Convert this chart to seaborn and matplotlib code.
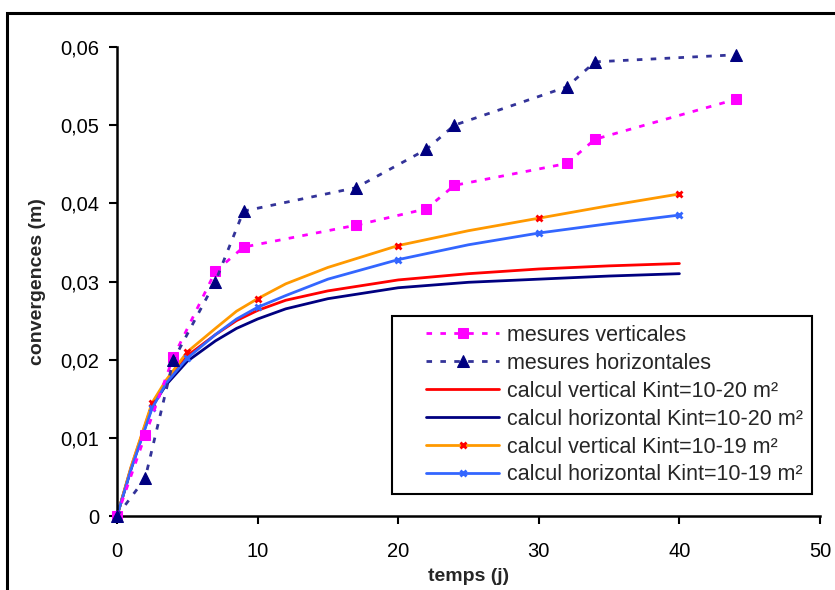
import matplotlib
matplotlib.use("Agg")
import matplotlib.pyplot as plt
from matplotlib.patches import Rectangle
import seaborn as sns
import pandas as pd

# ---- data ----
t_mes = [0, 2, 4, 7, 9, 17, 22, 24, 32, 34, 44]
mes_vert = [0.0, 0.0103, 0.0203, 0.0313, 0.0344, 0.0372, 0.0393, 0.0423, 0.0451, 0.0482, 0.0533]
mes_horiz = [0.0, 0.0048, 0.0199, 0.0300, 0.0390, 0.0420, 0.0469, 0.0500, 0.0549, 0.0581, 0.0590]

t_calc = [0, 1, 2.5, 3.5, 5, 7, 8.5, 10, 12, 15, 20, 25, 30, 35, 40]
calc_vert_20 = [0.0, 0.0062, 0.0143, 0.0172, 0.0205, 0.0232, 0.0250, 0.0263, 0.0276, 0.0288, 0.0302, 0.0310, 0.0316, 0.0320, 0.0323]
calc_horiz_20 = [0.0, 0.0060, 0.0140, 0.0168, 0.0198, 0.0224, 0.0240, 0.0252, 0.0265, 0.0278, 0.0292, 0.0299, 0.0303, 0.0307, 0.0310]
calc_vert_19 = [0.0, 0.0063, 0.0145, 0.0174, 0.0210, 0.0240, 0.0262, 0.0278, 0.0297, 0.0318, 0.0346, 0.0365, 0.0381, 0.0397, 0.0412]
calc_horiz_19 = [0.0, 0.0060, 0.0138, 0.0170, 0.0202, 0.0232, 0.0252, 0.0267, 0.0282, 0.0303, 0.0328, 0.0347, 0.0362, 0.0374, 0.0385]
marker_days = [0, 2.5, 5, 10, 20, 30, 40]

labels = ["mesures verticales", "mesures horizontales",
          "calcul vertical Kint=10-20 m²", "calcul horizontal Kint=10-20 m²",
          "calcul vertical Kint=10-19 m²", "calcul horizontal Kint=10-19 m²"]
x_ticks = [0, 10, 20, 30, 40, 50]
y_ticks = [0, 0.01, 0.02, 0.03, 0.04, 0.05, 0.06]
y_ticklabels = ["0", "0,01", "0,02", "0,03", "0,04", "0,05", "0,06"]

sns.set_style("ticks")
plt.rcParams["font.family"] = ["Liberation Sans", "DejaVu Sans"]

fig = plt.figure(figsize=(8.35, 5.9), dpi=100)
ax = fig.add_axes([117/835, 1-516/590, (820-117)/835, (516-47)/590])

mk_idx = [t_calc.index(d) for d in marker_days]

df_mv = pd.DataFrame({"t": t_mes, "v": mes_vert})
df_mh = pd.DataFrame({"t": t_mes, "v": mes_horiz})

sns.lineplot(data=df_mv, x="t", y="v", ax=ax, estimator=None, sort=False,
             color="#FF00FF", lw=2, linestyle=(0, (2.0, 3.0)),
             marker="s", markersize=7, markerfacecolor="#FF00FF", markeredgecolor="#FF00FF",
             label=labels[0], clip_on=False, zorder=5)
sns.lineplot(data=df_mh, x="t", y="v", ax=ax, estimator=None, sort=False,
             color="#333399", lw=2, linestyle=(0, (2.0, 3.0)),
             marker="^", markersize=8, markerfacecolor="#000080", markeredgecolor="#000080",
             label=labels[1], clip_on=False, zorder=5)
sns.lineplot(x=t_calc, y=calc_vert_20, ax=ax, estimator=None, sort=False,
             color="#FF0000", lw=2, label=labels[2])
sns.lineplot(x=t_calc, y=calc_horiz_20, ax=ax, estimator=None, sort=False,
             color="#000080", lw=2, label=labels[3])
sns.lineplot(x=t_calc, y=calc_vert_19, ax=ax, estimator=None, sort=False,
             color="#FF9900", lw=2, marker="x", markersize=5, markeredgewidth=2,
             markeredgecolor="#FF0000", markevery=mk_idx, label=labels[4], clip_on=False)
sns.lineplot(x=t_calc, y=calc_horiz_19, ax=ax, estimator=None, sort=False,
             color="#3366FF", lw=2, marker="x", markersize=5, markeredgewidth=2,
             markeredgecolor="#3366FF", markevery=mk_idx, label=labels[5], clip_on=False)

ax.set_xlim(0, 50)
ax.set_ylim(0, 0.06)
ax.set_xticks(x_ticks)
ax.set_xticklabels([str(v) for v in x_ticks])
ax.set_yticks(y_ticks)
ax.set_yticklabels(y_ticklabels)
ax.tick_params(axis="both", direction="out", length=6, width=1.5, labelsize=14.5,
               colors="black")
ax.tick_params(axis="y", pad=7)
ax.tick_params(axis="x", pad=13)
for s in ["top", "right"]:
    ax.spines[s].set_visible(False)
for s in ["left", "bottom"]:
    ax.spines[s].set_linewidth(1.8)
    ax.spines[s].set_color("black")

ax.set_xlabel("temps (j)", fontsize=14, fontweight="bold", labelpad=5)
ax.set_ylabel("convergences (m)", fontsize=14, fontweight="bold", labelpad=10)

# legend: frame drawn separately to reproduce the wide left padding
leg = ax.legend(loc="upper left", bbox_to_anchor=(426/835, 1-325/590),
                bbox_transform=fig.transFigure, fontsize=15.5, frameon=False,
                handlelength=3.4, labelspacing=0.32, borderpad=0.0,
                handletextpad=0.35, borderaxespad=0)
leg.set_zorder(8)
box = Rectangle((392/835, 1-494/590), (812-392)/835, (494-316)/590,
                transform=fig.transFigure, fill=True, facecolor="white",
                edgecolor="black", linewidth=1.5, zorder=7, clip_on=False)
ax.add_patch(box)

fig.patches.append(Rectangle((7/835, -0.05), 1.1, 1-13/590+0.05, transform=fig.transFigure,
                             fill=False, edgecolor="black", linewidth=2.2))

fig.savefig("out.png", dpi=100)
